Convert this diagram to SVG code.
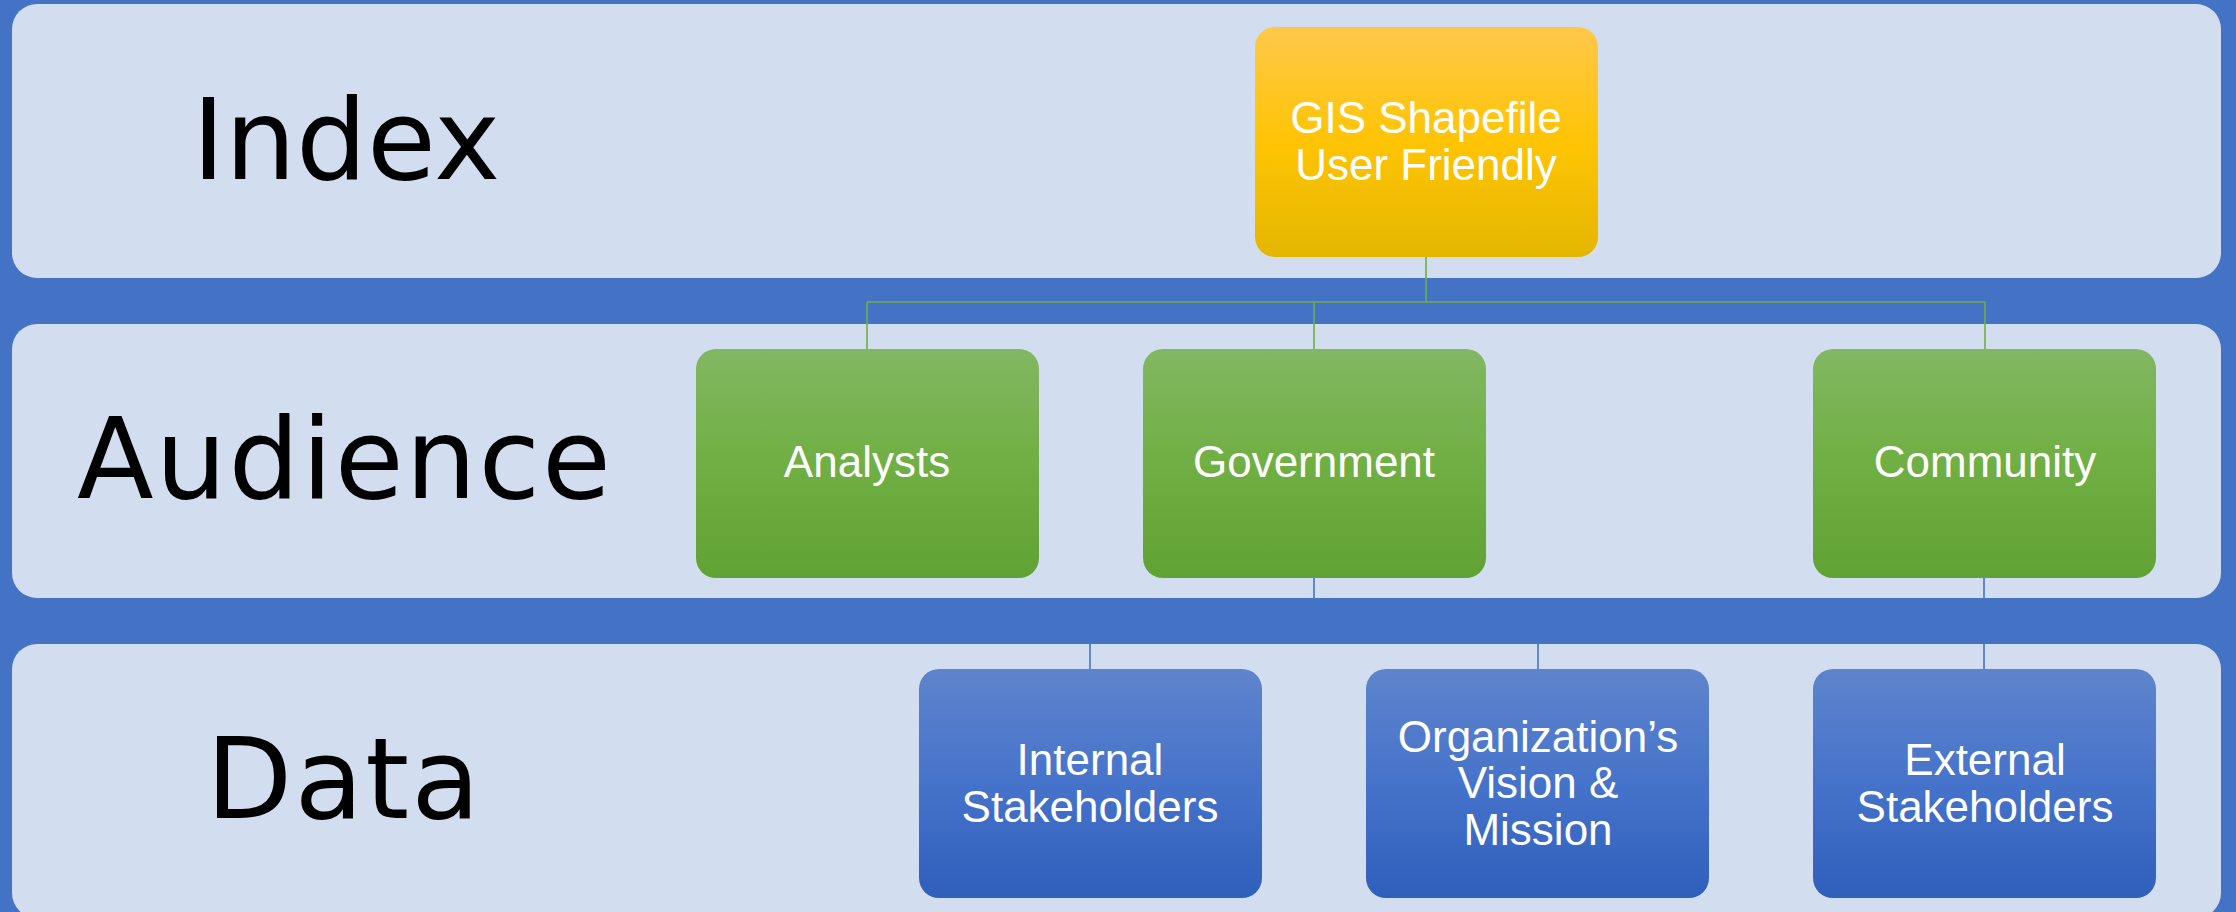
<svg xmlns="http://www.w3.org/2000/svg" width="2236" height="912" viewBox="0 0 2236 912">
  <defs>
    <linearGradient id="gYellow" x1="0" y1="0" x2="0" y2="1">
      <stop offset="0" stop-color="#FFC84B"/>
      <stop offset="0.5" stop-color="#FFC404"/>
      <stop offset="1" stop-color="#E4B600"/>
    </linearGradient>
    <linearGradient id="gGreen" x1="0" y1="0" x2="0" y2="1">
      <stop offset="0" stop-color="#82B763"/>
      <stop offset="0.5" stop-color="#70AF43"/>
      <stop offset="1" stop-color="#61A234"/>
    </linearGradient>
    <linearGradient id="gBlue" x1="0" y1="0" x2="0" y2="1">
      <stop offset="0" stop-color="#5F84CC"/>
      <stop offset="0.5" stop-color="#4673CA"/>
      <stop offset="1" stop-color="#2F5FBC"/>
    </linearGradient>
  </defs>
  <style>
    .band { fill: #D2DEEF; }
    .big { font-family: "DejaVu Sans", "Liberation Sans", sans-serif; font-size: 112px; fill: #000000; }
    .lbl { font-family: "Liberation Sans", Arial, sans-serif; font-size: 44px; fill: #FFFFFF; text-anchor: middle; }
    .gconn { stroke: #70AD47; stroke-width: 1.6; fill: none; }
    .bconn { stroke: #4472C4; stroke-width: 1.6; fill: none; }
  </style>
  <rect x="0" y="0" width="2236" height="912" fill="#4472C4"/>

  <g id="band-index">
    <rect class="band" x="12" y="4" width="2209" height="274" rx="25" ry="25"/>
    <text class="big" x="192" y="179">Index</text>
  </g>
  <g id="band-audience">
    <rect class="band" x="12" y="324" width="2209" height="274" rx="25" ry="25"/>
    <text class="big" x="77" y="498" textLength="534" lengthAdjust="spacing">Audience</text>
  </g>
  <g id="band-data">
    <rect class="band" x="12" y="644" width="2209" height="274" rx="25" ry="25"/>
    <text class="big" x="206" y="818" textLength="274" lengthAdjust="spacing">Data</text>
  </g>

  <g id="connectors">
    <path class="gconn" d="M1426,257 V302 M867,302 H1985 M867,302 V349 M1314,302 V349 M1985,302 V349"/>
    <path class="bconn" d="M1314,577 V598 M1984,577 V598 M1090,644 V669 M1538,644 V669 M1984,644 V669"/>
  </g>

  <g id="node-gis">
    <rect x="1255" y="27" width="343" height="230" rx="20" ry="20" fill="url(#gYellow)"/>
    <text class="lbl" x="1426" y="133">GIS Shapefile</text>
    <text class="lbl" x="1426" y="180">User Friendly</text>
  </g>

  <g id="node-analysts">
    <rect x="696" y="349" width="343" height="229" rx="20" ry="20" fill="url(#gGreen)"/>
    <text class="lbl" x="867" y="477">Analysts</text>
  </g>
  <g id="node-government">
    <rect x="1143" y="349" width="343" height="229" rx="20" ry="20" fill="url(#gGreen)"/>
    <text class="lbl" x="1314" y="477">Government</text>
  </g>
  <g id="node-community">
    <rect x="1813" y="349" width="343" height="229" rx="20" ry="20" fill="url(#gGreen)"/>
    <text class="lbl" x="1985" y="477">Community</text>
  </g>

  <g id="node-internal">
    <rect x="919" y="669" width="343" height="229" rx="20" ry="20" fill="url(#gBlue)"/>
    <text class="lbl" x="1090" y="775">Internal</text>
    <text class="lbl" x="1090" y="822">Stakeholders</text>
  </g>
  <g id="node-org">
    <rect x="1366" y="669" width="343" height="229" rx="20" ry="20" fill="url(#gBlue)"/>
    <text class="lbl" x="1538" y="752">Organization’s</text>
    <text class="lbl" x="1538" y="798">Vision &amp;</text>
    <text class="lbl" x="1538" y="845">Mission</text>
  </g>
  <g id="node-external">
    <rect x="1813" y="669" width="343" height="229" rx="20" ry="20" fill="url(#gBlue)"/>
    <text class="lbl" x="1985" y="775">External</text>
    <text class="lbl" x="1985" y="822">Stakeholders</text>
  </g>
</svg>
